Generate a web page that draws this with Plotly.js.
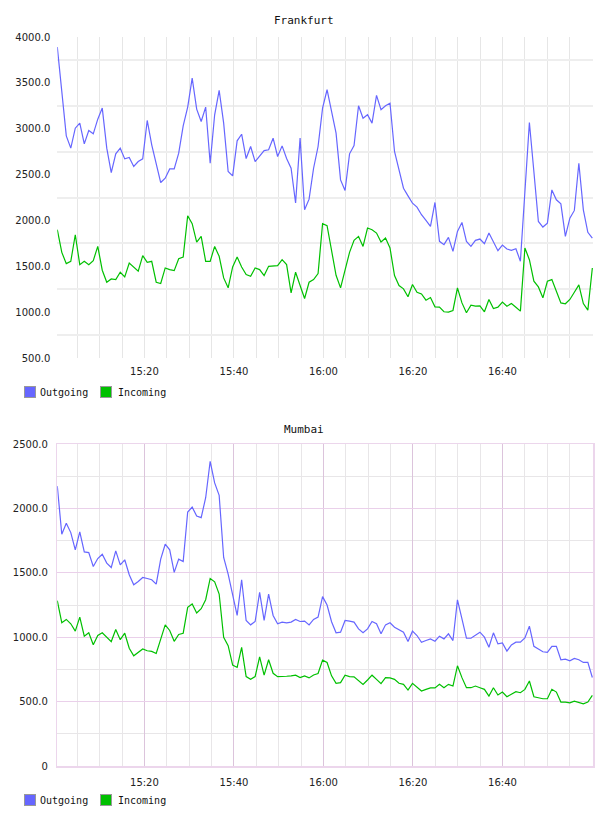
<!DOCTYPE html>
<html>
<head>
<meta charset="utf-8">
<script src="https://cdn.plot.ly/plotly-3.0.1.min.js"></script>
<style>html,body{margin:0;padding:0;background:#fff;}#chart{width:608px;height:816px;}</style>
</head>
<body>
<div id="chart"></div>
<script>
// ---- Data ----
const seriesNames = ["Outgoing", "Incoming"];
const chartTitles = ["Frankfurt", "Mumbai"];
const startTime = "2024-01-01 15:00:32";
const stepSeconds = 60.27;   // sampling interval of the series

const frankfurtOutgoing = [
  3890,3400,2922,2788,3006,3061,2835,2981,2944,3104,
  3225,2788,2522,2726,2788,2671,2686,2588,2642,2671,
  3090,2824,2606,2413,2460,2562,2562,2733,3032,3236,
  3552,3214,3079,3236,2624,3152,3418,3061,2533,2486,
  2868,2940,2675,2806,2642,2704,2762,2770,2897,2697,
  2813,2675,2569,2190,2897,2116,2232,2569,2806,3225,
  3425,3188,2952,2442,2326,2726,2817,3250,3115,3152,
  3061,3363,3207,3250,3279,2752,2533,2351,2268,2188,
  2145,2062,2000,1935,2196,1772,1736,1815,1663,1880,
  1978,1772,1717,1783,1797,1746,1862,1761,1670,1732,
  1688,1674,1692,1554,2300,3068,2530,1989,1928,1971,
  2333,2225,2181,1826,2025,2109,2624,2116,1870,1808
];
const frankfurtIncoming = [
  1899,1652,1529,1554,1844,1518,1554,1518,1562,1717,
  1457,1326,1362,1355,1435,1384,1536,1493,1446,1616,
  1543,1554,1326,1312,1482,1464,1453,1583,1601,2051,
  1964,1764,1826,1554,1554,1717,1609,1373,1265,1493,
  1601,1493,1409,1391,1482,1464,1399,1500,1507,1507,
  1572,1518,1210,1435,1290,1149,1326,1355,1420,1964,
  1942,1663,1402,1265,1464,1652,1783,1826,1717,1917,
  1899,1862,1764,1808,1699,1399,1290,1254,1167,1301,
  1217,1199,1130,1159,1058,1054,1004,1000,1018,1265,
  1101,993,1076,1065,1069,1004,1138,1040,1054,1109,
  1065,1094,1054,1011,1699,1572,1337,1275,1156,1337,
  1355,1228,1101,1091,1138,1217,1297,1094,1022,1482
];
const mumbaiOutgoing = [
  2173,1799,1884,1812,1678,1817,1662,1657,1549,1611,
  1644,1575,1541,1670,1562,1601,1485,1407,1433,1464,
  1456,1446,1412,1606,1722,1678,1503,1606,1588,1972,
  2010,1941,1928,2083,2366,2198,2101,1619,1490,1323,
  1169,1446,1130,1096,1122,1348,1130,1335,1169,1104,
  1117,1112,1117,1138,1122,1125,1096,1138,1156,1315,
  1250,1120,1034,1039,1130,1125,1117,1065,1034,1065,
  1122,1104,1026,1096,1112,1078,1057,1039,966,1047,
  1013,961,974,987,969,1008,987,1026,974,1290,
  1143,992,992,1013,1039,1000,922,1034,948,956,
  892,940,961,961,995,1086,929,908,887,882,
  929,929,825,830,817,835,825,804,804,687
];
const mumbaiIncoming = [
  1284,1112,1138,1104,1047,1156,1008,1034,942,1013,
  1034,1000,966,1060,981,1031,914,856,882,908,
  895,890,874,987,1096,1052,968,1021,1031,1232,
  1258,1188,1221,1291,1456,1430,1335,1000,934,783,
  765,921,694,673,694,848,705,825,720,694,
  694,697,700,705,686,700,684,707,718,822,
  804,700,642,647,705,694,692,660,634,668,
  705,673,639,686,684,673,642,634,590,642,
  613,582,595,606,606,634,608,634,621,778,
  686,608,608,621,608,595,543,608,551,574,
  538,556,577,569,595,660,538,530,522,522,
  595,574,496,496,491,504,491,483,496,548
];

const timeTickVals = ["2024-01-01 15:20","2024-01-01 15:40","2024-01-01 16:00","2024-01-01 16:20","2024-01-01 16:40"];
const timeTickText = ["15:20","15:40","16:00","16:20","16:40"];
const frankfurtTickVals = [500,1000,1500,2000,2500,3000,3500,4000];
const frankfurtTickText = ["500.0","1000.0","1500.0","2000.0","2500.0","3000.0","3500.0","4000.0"];
const frankfurtGridVals = [750,1250,1750,2250,2750,3250,3750];
const mumbaiTickVals = [0,500,1000,1500,2000,2500];
const mumbaiTickText = ["0","500.0","1000.0","1500.0","2000.0","2500.0"];

// ---- Build time axis ----
const t0 = new Date(startTime.replace(" ", "T") + "Z").getTime();
function fmt(ms){ return new Date(ms).toISOString().replace("T"," ").replace("Z",""); }
const times = frankfurtOutgoing.map((_, i) => fmt(t0 + i * stepSeconds * 1000));
const xRange = ["2024-01-01 15:00:32", "2024-01-01 17:00:13"];

const blue = "#6666ff", green = "#00c000";
const W = 608, H = 816;
const px = v => v / W, py = v => 1 - v / H;

const traces = [
  {x: times, y: frankfurtOutgoing, name: seriesNames[0], xaxis: "x", yaxis: "y", line: {color: blue, width: 1.2}},
  {x: times, y: frankfurtIncoming, name: seriesNames[1], xaxis: "x", yaxis: "y", line: {color: green, width: 1.2}},
  {x: times, y: mumbaiOutgoing, name: seriesNames[0], xaxis: "x2", yaxis: "y2", line: {color: blue, width: 1.2}},
  {x: times, y: mumbaiIncoming, name: seriesNames[1], xaxis: "x2", yaxis: "y2", line: {color: green, width: 1.2}}
].map(t => Object.assign({type: "scatter", mode: "lines", showlegend: false, hoverinfo: "skip"}, t));

const tickFont = {family: "DejaVu Sans", size: 10, color: "#222"};
const xCommon = {
  type: "date", range: xRange, domain: [px(57.3), px(593)],
  tickmode: "array", tickvals: timeTickVals, ticktext: timeTickText, ticks: "", zeroline: false,
  tickfont: tickFont, ticklabelstandoff: 6
};

const layout = {
  width: W, height: H, margin: {l: 0, r: 0, t: 0, b: 0},
  paper_bgcolor: "#fff", plot_bgcolor: "#fff", showlegend: false,
  xaxis: Object.assign({}, xCommon, {anchor: "y", showgrid: true, gridcolor: "#e6e6e6", gridwidth: 1,
    minor: {tickmode: "linear", tick0: "2024-01-01 15:05", dtick: 5 * 60 * 1000, showgrid: true, gridcolor: "#e6e6e6", gridwidth: 1}, showline: false}),
  yaxis: {domain: [py(358), py(37)], range: [500, 4000], tickvals: frankfurtTickVals, ticktext: frankfurtTickText,
    showgrid: false, zeroline: false, ticks: "", tickfont: tickFont, ticklabelstandoff: 6,
    minor: {tickvals: frankfurtGridVals, showgrid: true, gridcolor: "#eeeeee", gridwidth: 2}},
  xaxis2: Object.assign({}, xCommon, {anchor: "y2", showgrid: true, gridcolor: "#dcc4dc", gridwidth: 1,
    minor: {tickmode: "linear", tick0: "2024-01-01 15:05", dtick: 5 * 60 * 1000, showgrid: true, gridcolor: "#e8e6e8", gridwidth: 1},
    showline: true, mirror: true, linecolor: "#ecd6ec", linewidth: 1.5}),
  yaxis2: {domain: [py(766), py(444)], range: [0, 2500], tickvals: mumbaiTickVals, ticktext: mumbaiTickText,
    showgrid: true, gridcolor: "#ead0ea", gridwidth: 1, zeroline: false, ticks: "", tickfont: tickFont, ticklabelstandoff: 6,
    showline: true, mirror: true, linecolor: "#ecd6ec", linewidth: 1.5,
    minor: {dtick: 250, showgrid: true, gridcolor: "#e8e6e8", gridwidth: 1}},
  annotations: []
};

// Titles
const titleFont = {family: "DejaVu Sans Mono", size: 11, color: "#111"};
[[chartTitles[0], 20], [chartTitles[1], 429]].forEach(([t, y]) => {
  layout.annotations.push({xref: "paper", yref: "paper", x: px(304), y: py(y), xanchor: "center", yanchor: "middle",
    text: t, showarrow: false, font: titleFont});
});

// Legends (square swatch + label) under each chart
const legendFont = {family: "DejaVu Sans Mono", size: 10, color: "#111"};
const colors = [blue, green];
[392, 800].forEach(ly => {
  [[24, 38], [100, 116]].forEach(([sx, tx], k) => {
    layout.annotations.push({xref: "paper", yref: "paper", x: px(sx), y: py(ly), xanchor: "left", yanchor: "middle",
      text: " ", width: 10, height: 10, bgcolor: colors[k], bordercolor: "#999", borderwidth: 1, borderpad: 0,
      showarrow: false, font: {size: 6}});
    layout.annotations.push({xref: "paper", yref: "paper", x: px(tx), y: py(ly), xanchor: "left", yanchor: "middle",
      text: seriesNames[k], showarrow: false, font: legendFont});
  });
});

Plotly.newPlot("chart", traces, layout, {displayModeBar: false, staticPlot: true});
</script>
</body>
</html>
